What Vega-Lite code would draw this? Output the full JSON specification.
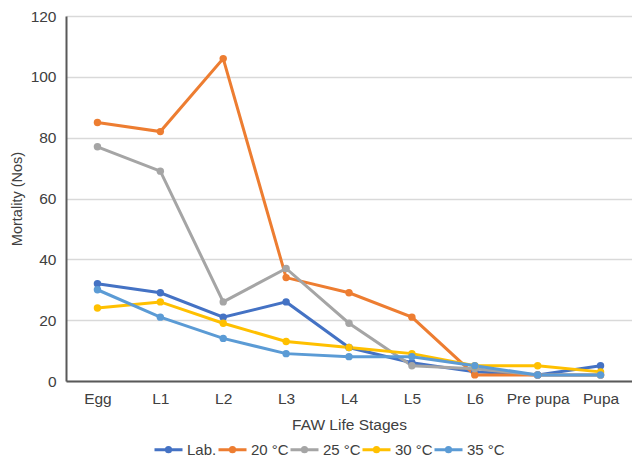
{
  "$schema": "https://vega.github.io/schema/vega-lite/v6.json",
  "width": 566,
  "height": 365,
  "autosize": {"type": "none"},
  "padding": {"left": 66, "top": 16, "right": 0, "bottom": 84},
  "background": "white",
  "config": {
    "font": "Liberation Sans",
    "view": {"stroke": null},
    "axis": {"labelFont": "Liberation Sans", "titleFont": "Liberation Sans", "labelColor": "#404040", "titleColor": "#404040", "titleFontWeight": "normal"},
    "legend": {"labelFont": "Liberation Sans"}
  },
  "data": {
    "values": [
      {"stage": "Egg", "series": "Lab.", "value": 32},
      {"stage": "L1", "series": "Lab.", "value": 29},
      {"stage": "L2", "series": "Lab.", "value": 21},
      {"stage": "L3", "series": "Lab.", "value": 26},
      {"stage": "L4", "series": "Lab.", "value": 11},
      {"stage": "L5", "series": "Lab.", "value": 6},
      {"stage": "L6", "series": "Lab.", "value": 3},
      {"stage": "Pre pupa", "series": "Lab.", "value": 2},
      {"stage": "Pupa", "series": "Lab.", "value": 5},
      {"stage": "Egg", "series": "20 °C", "value": 85},
      {"stage": "L1", "series": "20 °C", "value": 82},
      {"stage": "L2", "series": "20 °C", "value": 106},
      {"stage": "L3", "series": "20 °C", "value": 34},
      {"stage": "L4", "series": "20 °C", "value": 29},
      {"stage": "L5", "series": "20 °C", "value": 21},
      {"stage": "L6", "series": "20 °C", "value": 2},
      {"stage": "Pre pupa", "series": "20 °C", "value": 2},
      {"stage": "Pupa", "series": "20 °C", "value": 2},
      {"stage": "Egg", "series": "25 °C", "value": 77},
      {"stage": "L1", "series": "25 °C", "value": 69},
      {"stage": "L2", "series": "25 °C", "value": 26},
      {"stage": "L3", "series": "25 °C", "value": 37},
      {"stage": "L4", "series": "25 °C", "value": 19},
      {"stage": "L5", "series": "25 °C", "value": 5},
      {"stage": "L6", "series": "25 °C", "value": 4},
      {"stage": "Pre pupa", "series": "25 °C", "value": 2},
      {"stage": "Pupa", "series": "25 °C", "value": 2},
      {"stage": "Egg", "series": "30 °C", "value": 24},
      {"stage": "L1", "series": "30 °C", "value": 26},
      {"stage": "L2", "series": "30 °C", "value": 19},
      {"stage": "L3", "series": "30 °C", "value": 13},
      {"stage": "L4", "series": "30 °C", "value": 11},
      {"stage": "L5", "series": "30 °C", "value": 9},
      {"stage": "L6", "series": "30 °C", "value": 5},
      {"stage": "Pre pupa", "series": "30 °C", "value": 5},
      {"stage": "Pupa", "series": "30 °C", "value": 3},
      {"stage": "Egg", "series": "35 °C", "value": 30},
      {"stage": "L1", "series": "35 °C", "value": 21},
      {"stage": "L2", "series": "35 °C", "value": 14},
      {"stage": "L3", "series": "35 °C", "value": 9},
      {"stage": "L4", "series": "35 °C", "value": 8},
      {"stage": "L5", "series": "35 °C", "value": 8},
      {"stage": "L6", "series": "35 °C", "value": 5},
      {"stage": "Pre pupa", "series": "35 °C", "value": 2},
      {"stage": "Pupa", "series": "35 °C", "value": 2}
    ]
  },
  "encoding": {
    "x": {
      "field": "stage", "type": "ordinal", "sort": null,
      "scale": {"type": "point", "padding": 0.5},
      "axis": {"title": "FAW Life Stages", "labelAngle": 0, "labelFontSize": 15.5, "titleFontSize": 15.5, "labelPadding": 10, "titlePadding": 11, "ticks": false, "domainColor": "#595959", "domainWidth": 2, "grid": false}
    },
    "y": {
      "field": "value", "type": "quantitative",
      "scale": {"domain": [0, 120], "nice": false},
      "axis": {"title": "Mortality (Nos)", "values": [0, 20, 40, 60, 80, 100, 120], "labelFontSize": 15.5, "titleFontSize": 14.5, "labelPadding": 10, "titlePadding": 6, "ticks": false, "domainColor": "#595959", "domainWidth": 2, "gridColor": "#D9D9D9", "gridWidth": 1.5}
    },
    "color": {
      "field": "series", "type": "nominal", "sort": ["Lab.", "20 °C", "25 °C", "30 °C", "35 °C"],
      "scale": {"domain": ["Lab.", "20 °C", "25 °C", "30 °C", "35 °C"], "range": ["#4472C4", "#ED7D31", "#A5A5A5", "#FFC000", "#5B9BD5"]},
      "legend": {
        "title": null, "orient": "none", "direction": "horizontal", "legendX": 87, "legendY": 418,
        "symbolType": "M-1,0H1M-0.15,0A0.15,0.15,0,1,1,0.15,0A0.15,0.15,0,1,1,-0.15,0",
        "symbolSize": 784, "symbolStrokeWidth": 3, "labelFontSize": 15, "labelColor": "#404040",
        "labelOffset": 3, "columnPadding": -6,
        "encode": {"symbols": {"update": {"fill": {"scale": "color", "field": "value"}, "stroke": {"scale": "color", "field": "value"}}}}
      }
    }
  },
  "layer": [
    {"mark": {"type": "line", "strokeWidth": 3}},
    {"mark": {"type": "point", "filled": true, "size": 55, "opacity": 1}}
  ]
}
